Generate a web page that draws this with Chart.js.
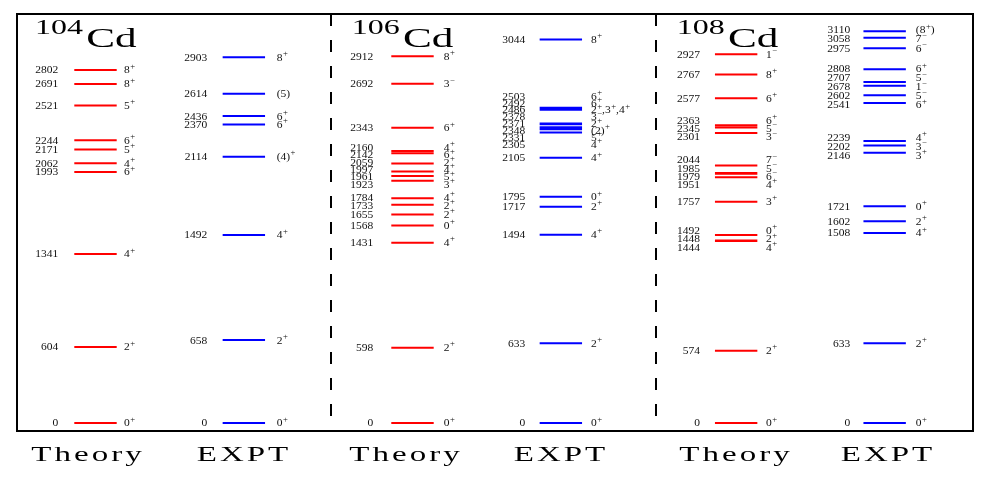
<!DOCTYPE html>
<html>
<head>
<meta charset="utf-8">
<script src="https://cdn.jsdelivr.net/npm/chart.js@4.4.0/dist/chart.umd.min.js"></script>
<style>
  html, body { margin: 0; padding: 0; background: #fff; }
  #wrap { width: 989px; height: 492px; }
</style>
</head>
<body>
<div id="wrap"><canvas id="levels"></canvas></div>
<script>
// panel titles and column captions
const nuclei = ["104", "106", "108"];
const columns = ["Theory", "EXPT", "Theory", "EXPT", "Theory", "EXPT"];

// level energies (keV) and spins, one pair of arrays per column
const th104E = [0, 604, 1341, 1993, 2062, 2171, 2244, 2521, 2691, 2802];
const th104J = ["0+", "2+", "4+", "6+", "4+", "5+", "6+", "5+", "8+", "8+"];
const ex104E = [0, 658, 1492, 2114, 2370, 2436, 2614, 2903];
const ex104J = ["0+", "2+", "4+", "(4)+", "6+", "6+", "(5)", "8+"];

const th106E = [0, 598, 1431, 1568, 1655, 1733, 1784, 1923, 1961, 1997, 2059, 2142, 2160, 2343, 2692, 2912];
const th106J = ["0+", "2+", "4+", "0+", "2+", "2+", "4+", "3+", "5+", "4+", "2+", "6+", "4+", "6+", "3-", "8+"];
const ex106E = [0, 633, 1494, 1717, 1795, 2105, 2305, 2331, 2348, 2371, 2378, 2486, 2492, 2503, 3044];
const ex106J = ["0+", "2+", "4+", "2+", "0+", "4+", "4+", "5+", "(2)+", "2+", "3-", "2+,3+,4+", "6+", "6+", "8+"];

const th108E = [0, 574, 1444, 1448, 1492, 1757, 1951, 1979, 1985, 2044, 2301, 2345, 2363, 2577, 2767, 2927];
const th108J = ["0+", "2+", "4+", "2+", "0+", "3+", "4+", "6-", "5-", "7-", "3-", "5-", "6+", "6+", "8+", "1-"];
const ex108E = [0, 633, 1508, 1602, 1721, 2146, 2202, 2239, 2541, 2602, 2678, 2707, 2808, 2975, 3058, 3110];
const ex108J = ["0+", "2+", "4+", "2+", "0+", "3+", "3-", "4+", "6+", "5-", "1-", "5-", "6+", "6-", "7-", "(8+)"];

const energies = [th104E, ex104E, th106E, ex106E, th108E, ex108E];
const spins = [th104J, ex104J, th106J, ex106J, th108J, ex108J];

// layout (x in canvas pixels, the x scale is set up 1:1)
const colX = [95.5, 243.85, 412.5, 560.85, 736.15, 884.65];
const halfLen = 21.2;
const eGap = [16, 15.4, 18, 14.3, 15, 13.3];
const jGap = [7.3, 11.7, 10, 9, 8.7, 10];
const minGap = [8, 8, 7.4, 6.9, 8.3, 9];
const titleX = [35, 351.7, 676.7];
const captionX = [88, 244, 406, 561, 736, 888];
const dividers = [331, 656];
const colours = ["#ff0000", "#0000ff", "#ff0000", "#0000ff", "#ff0000", "#0000ff"];
const FONT = "'Liberation Serif', 'DejaVu Serif', serif";

const datasets = energies.map((es, i) => ({
  data: es.flatMap(e => [
    { x: colX[i] - halfLen, y: e },
    { x: colX[i] + halfLen, y: e },
    { x: colX[i], y: null },
  ]),
  borderColor: colours[i],
  borderWidth: 2,
  pointRadius: 0,
  spanGaps: false,
}));

// push overlapping labels apart, keeping each cluster centred on its levels
function spread(ys, gap) {
  let blocks = ys.map(y => ({ ys: [y], pos: [y] }));
  let merged = true;
  while (merged) {
    merged = false;
    for (let i = 0; i < blocks.length - 1; i++) {
      const a = blocks[i], b = blocks[i + 1];
      if (a.pos[a.pos.length - 1] + gap > b.pos[0] + 0.01) {
        const all = a.ys.concat(b.ys);
        const mean = all.reduce((s, v) => s + v, 0) / all.length;
        const start = mean - gap * (all.length - 1) / 2;
        blocks.splice(i, 2, { ys: all, pos: all.map((_, k) => start + k * gap) });
        merged = true;
        break;
      }
    }
  }
  return blocks.flatMap(b => b.pos);
}

function drawSpin(ctx, txt, x, y) {
  ctx.save();
  ctx.translate(x, y);
  ctx.scale(1.15, 1);
  let cx = 0;
  for (const ch of txt) {
    const sup = ch === "+" || ch === "-";
    ctx.font = sup ? `7.5px ${FONT}` : `10px ${FONT}`;
    const c = ch === "-" ? "\u2212" : ch;
    ctx.fillText(c, cx + (sup ? 0.4 : 0), sup ? -1.3 : 3.4);
    cx += ctx.measureText(c).width + (sup ? 0.4 : 0);
  }
  ctx.restore();
}

const levelLabels = {
  id: "levelLabels",
  afterDatasetsDraw(chart) {
    const { ctx, chartArea: a, scales: { x, y } } = chart;
    ctx.save();

    // frame and dashed dividers
    ctx.strokeStyle = "#000";
    ctx.lineWidth = 2;
    ctx.strokeRect(a.left, a.top, a.right - a.left, a.bottom - a.top);
    ctx.setLineDash([12, 14]);
    dividers.forEach(d => {
      const px = x.getPixelForValue(d);
      ctx.beginPath();
      ctx.moveTo(px, a.top);
      ctx.lineTo(px, a.bottom);
      ctx.stroke();
    });
    ctx.setLineDash([]);

    // energy and spin labels
    ctx.fillStyle = "#111";
    energies.forEach((es, i) => {
      const order = es.map((e, k) => k).sort((p, q) => es[q] - es[p]);
      const ys = spread(order.map(k => y.getPixelForValue(es[k])), minGap[i]);
      const left = x.getPixelForValue(colX[i] - halfLen);
      const right = x.getPixelForValue(colX[i] + halfLen);
      order.forEach((k, n) => {
        ctx.save();
        ctx.translate(left - eGap[i], ys[n]);
        ctx.scale(1.15, 1);
        ctx.font = `10px ${FONT}`;
        ctx.textAlign = "right";
        ctx.fillText(String(es[k]), 0, 3.4);
        ctx.restore();
        ctx.textAlign = "left";
        drawSpin(ctx, spins[i][k], right + jGap[i], ys[n]);
      });
    });

    // panel titles
    ctx.fillStyle = "#000";
    ctx.textAlign = "left";
    nuclei.forEach((a0, i) => {
      ctx.save();
      ctx.translate(titleX[i], 0);
      ctx.scale(1.6, 1);
      ctx.font = `20px ${FONT}`;
      ctx.fillText(a0, 0, 34);
      const w = ctx.measureText(a0).width;
      ctx.font = `27px ${FONT}`;
      ctx.fillText("Cd", w + 2, 47.3);
      ctx.restore();
    });

    // column captions
    columns.forEach((c, i) => {
      ctx.save();
      ctx.translate(captionX[i], 461);
      ctx.scale(1.5, 1);
      ctx.font = `22px ${FONT}`;
      ctx.letterSpacing = "2px";
      ctx.textAlign = "center";
      ctx.fillText(c, 0, 0);
      ctx.restore();
    });
    ctx.restore();
  },
};

new Chart(document.getElementById("levels"), {
  type: "line",
  data: { datasets },
  options: {
    responsive: true,
    maintainAspectRatio: false,
    animation: false,
    events: [],
    layout: { padding: { left: 17, right: 16, top: 14, bottom: 61 } },
    plugins: { legend: { display: false }, tooltip: { enabled: false } },
    scales: {
      x: { type: "linear", min: 17, max: 973, display: false },
      y: { type: "linear", min: -63.5, max: 3246.6, display: false },
    },
  },
  plugins: [levelLabels],
});
</script>
</body>
</html>
